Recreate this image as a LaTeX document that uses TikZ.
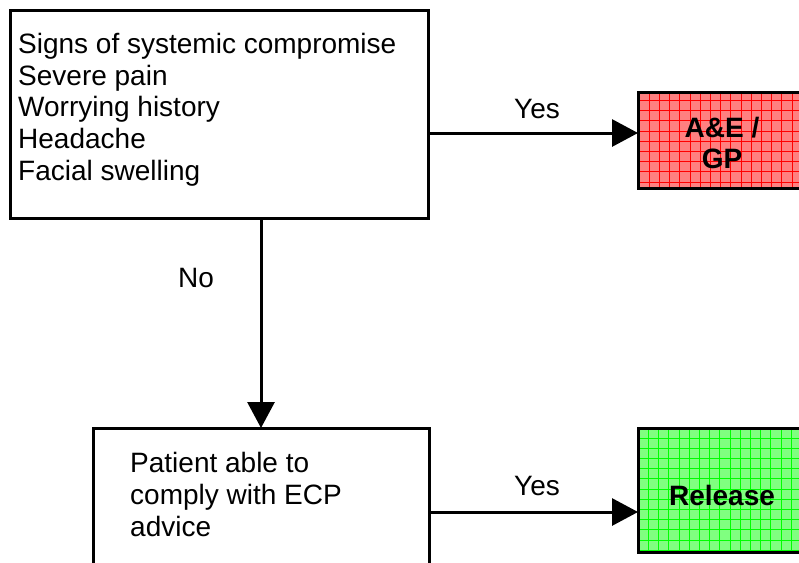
\documentclass[tikz,border=0pt]{standalone}
\usepackage{fontspec}
\setmainfont{Liberation Sans}
\usetikzlibrary{arrows.meta}
\definecolor{redfill}{RGB}{255,128,128}
\definecolor{redgrid}{RGB}{255,0,0}
\definecolor{greenfill}{RGB}{128,255,128}
\definecolor{greengrid}{RGB}{0,255,0}
\tikzset{
  box/.style={draw=black, line width=3pt, rectangle, inner sep=0pt, outer sep=0pt, anchor=north west},
  txt/.style={inner sep=0pt, anchor=base west, font=\fontsize{28}{32}\selectfont},
  btxt/.style={inner sep=0pt, anchor=base, font=\fontsize{28}{32}\selectfont\bfseries},
  lbl/.style={inner sep=0pt, anchor=base, font=\fontsize{28}{32}\selectfont},
  conn/.style={line width=3pt, -{Triangle[length=26pt,width=27pt]}},
}
\begin{document}
\begin{tikzpicture}[x=1pt,y=-1pt]
\useasboundingbox (0,0) rectangle (799,562);
\clip (0,0) rectangle (799,562);
% boxes
\node[box, minimum width=418pt, minimum height=208pt] (b1) at (10,10) {};
\node[box, minimum width=336pt, minimum height=160pt] (b2) at (93.5,428) {};
\node[box, fill=redfill, minimum width=168pt, minimum height=96pt] (ae) at (638,92.5) {};
\node[box, fill=greenfill, minimum width=168pt, minimum height=124pt] (rel) at (638,428) {};
% grids
\begin{scope}
  \clip (ae.north west) rectangle (ae.south east);
  \foreach \i in {0,...,16} {\draw[redgrid, line width=0.9pt] (649.2+10.2*\i,0) -- (649.2+10.2*\i,562);}
  \foreach \j in {0,...,10} {\draw[redgrid, line width=0.9pt] (0,100.5+10.2*\j) -- (799,100.5+10.2*\j);}
\end{scope}
\begin{scope}
  \clip (rel.north west) rectangle (rel.south east);
  \foreach \i in {0,...,16} {\draw[greengrid, line width=0.9pt] (648.5+10.2*\i,0) -- (648.5+10.2*\i,562);}
  \foreach \j in {0,...,12} {\draw[greengrid, line width=0.9pt] (0,438+10.2*\j) -- (799,438+10.2*\j);}
\end{scope}
\draw[line width=3pt] (ae.north west) rectangle (ae.south east);
\draw[line width=3pt] (rel.north west) rectangle (rel.south east);
% texts
\node[txt] (t1) at (18,53) {Signs of systemic compromise};
\node[txt] (t2) at (18,85) {Severe pain};
\node[txt] (t3) at (18,116) {Worrying history};
\node[txt] (t4) at (18,148) {Headache};
\node[txt] (t5) at (18,180) {Facial swelling};
\node[txt] (p1) at (130,472) {Patient able to};
\node[txt] (p2) at (130,504) {comply with ECP};
\node[txt] (p3) at (130,536) {advice};
\node[btxt] (ae1) at (722,137) {A\&E /};
\node[btxt] (ae2) at (722,168) {GP};
\node[btxt] (rl) at (722,505) {Release};
\node[lbl] (yes1) at (537,118) {Yes};
\node[lbl] (yes2) at (537,495) {Yes};
\node[lbl] (no) at (196,287) {No};
% connectors
\coordinate (r1) at (0,133);
\coordinate (r2) at (0,512);
\coordinate (cx) at (261,0);
\draw[conn] (b1.east |- r1) -- (ae.west |- r1);
\draw[conn] (b2.east |- r2) -- (rel.west |- r2);
\draw[conn] (b1.south -| cx) -- (b2.north -| cx);
\end{tikzpicture}
\end{document}
